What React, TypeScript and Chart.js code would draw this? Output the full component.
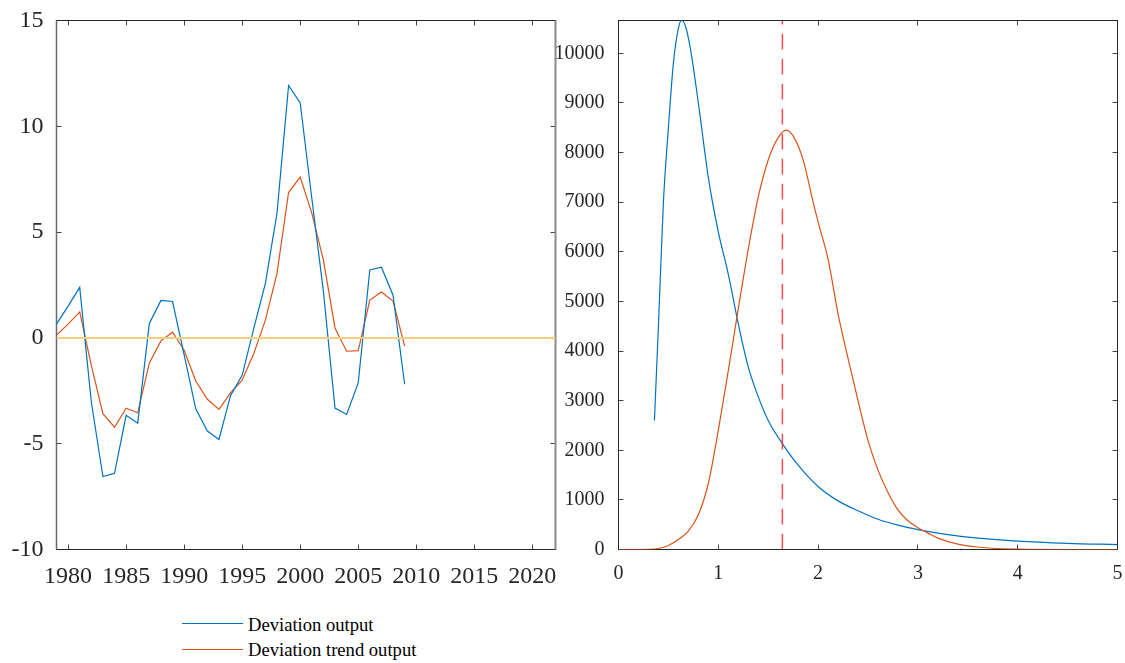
import React, { useEffect, useRef } from "react";
import { Chart, registerables } from "chart.js";

Chart.register(...registerables);

// ---------- Left panel data ----------
const years = [
  1979, 1980, 1981, 1982, 1983, 1984, 1985, 1986, 1987, 1988, 1989, 1990,
  1991, 1992, 1993, 1994, 1995, 1996, 1997, 1998, 1999, 2000, 2001, 2002,
  2003, 2004, 2005, 2006, 2007, 2008, 2009,
];
const deviationOutput = [
  0.65, 1.5, 2.39, -3.03, -6.55, -6.4, -3.66, -4.03, 0.68, 1.77, 1.72, -0.8,
  -3.35, -4.4, -4.8, -2.72, -1.77, 0.45, 2.58, 5.9, 11.93, 11.1, 6.6, 2.2,
  -3.32, -3.62, -2.13, 3.21, 3.34, 2.02, -2.19,
];
const deviationTrendOutput = [
  0.13, 0.65, 1.23, -1.3, -3.58, -4.22, -3.32, -3.54, -1.18, -0.14, 0.27, -0.58,
  -2.04, -2.9, -3.38, -2.6, -2.0, -0.74, 0.84, 3.05, 6.87, 7.6, 5.9, 3.68,
  0.47, -0.63, -0.6, 1.79, 2.17, 1.74, -0.39,
];
const zeroLineX = [1979, 2022];
const zeroLineY = [0, 0];
const leftXTicks = [1980, 1985, 1990, 1995, 2000, 2005, 2010, 2015, 2020];
const leftYTicks = [-10, -5, 0, 5, 10, 15];

// ---------- Right panel data ----------
const blueX = [
  0.36, 0.4, 0.45, 0.5, 0.55, 0.6, 0.63, 0.67, 0.72, 0.8, 0.9, 1.0, 1.1, 1.2,
  1.3, 1.4, 1.5, 1.64, 1.8, 2.0, 2.2, 2.4, 2.6, 2.8, 3.0, 3.2, 3.5, 4.0, 4.5, 5.0,
];
const blueY = [
  2600, 4500, 7000, 8500, 9800, 10500, 10660, 10550, 10100, 9000, 7500, 6400,
  5550, 4550, 3680, 3080, 2600, 2140, 1700, 1270, 980, 780, 610, 490, 400, 330,
  250, 170, 125, 100,
];
const orangeX = [
  0, 0.3, 0.4, 0.5, 0.6, 0.7, 0.8, 0.9, 1.0, 1.1, 1.2, 1.3, 1.4, 1.5, 1.6, 1.68,
  1.76, 1.85, 1.95, 2.0, 2.1, 2.2, 2.3, 2.4, 2.5, 2.6, 2.7, 2.8, 2.9, 3.0, 3.1,
  3.2, 3.4, 3.6, 3.8, 4.0, 4.5, 5.0,
];
const orangeY = [
  0, 5, 20, 80, 200, 370, 700, 1330, 2400, 3600, 4850, 6050, 7100, 7850, 8300,
  8450, 8300, 7850, 7000, 6600, 5850, 4750, 3850, 3000, 2200, 1600, 1150, 800,
  580, 440, 330, 230, 110, 50, 20, 8, 0, 0,
];
const markerX = 1.642;
const rightXTicks = [0, 1, 2, 3, 4, 5];
const rightYTicks = [0, 1000, 2000, 3000, 4000, 5000, 6000, 7000, 8000, 9000, 10000];
const rightYMax = 10660;

const legendLabels = ["Deviation output", "Deviation trend output"];

// ---------- Styles ----------
const BLUE = "#0072BD";
const ORANGE = "#D95319";
const YELLOW = "rgb(244,208,122)";
const FONT = "'Liberation Serif', 'Times New Roman', serif";
const TXT = "#262626";

const pts = (xs: number[], ys: number[]) => xs.map((x, i) => ({ x, y: ys[i] }));

const zeroPad = (s: any) => {
  s.paddingTop = 0;
  s.paddingBottom = 0;
  s.paddingLeft = 0;
  s.paddingRight = 0;
};

type SpineCfg = { color: string; width: number };
const framePlugin = (sp: { top: SpineCfg; bottom: SpineCfg; left: SpineCfg; right: SpineCfg }, tickColor: string) => ({
  id: "frame",
  beforeDatasetsDraw(chart: any) {
    const { ctx, chartArea } = chart;
    const { left, right, top, bottom } = chartArea;
    const xs = chart.scales.x;
    const ys = chart.scales.y;
    const L = 5;
    ctx.save();
    ctx.strokeStyle = tickColor;
    ctx.lineWidth = 1;
    ctx.beginPath();
    for (const t of xs.ticks) {
      const px = Math.round(xs.getPixelForValue(t.value) - 0.5) + 0.5;
      ctx.moveTo(px, bottom);
      ctx.lineTo(px, bottom - L);
      ctx.moveTo(px, top);
      ctx.lineTo(px, top + L);
    }
    for (const t of ys.ticks) {
      const py = Math.round(ys.getPixelForValue(t.value) - 0.5) + 0.5;
      ctx.moveTo(left, py);
      ctx.lineTo(left + L, py);
      ctx.moveTo(right, py);
      ctx.lineTo(right - L, py);
    }
    ctx.stroke();
    const line = (c: SpineCfg, x1: number, y1: number, x2: number, y2: number) => {
      ctx.beginPath();
      ctx.strokeStyle = c.color;
      ctx.lineWidth = c.width;
      ctx.moveTo(x1, y1);
      ctx.lineTo(x2, y2);
      ctx.stroke();
    };
    line(sp.top, left - 0.5, top, right + 0.5, top);
    line(sp.bottom, left - 0.5, bottom, right + 0.5, bottom);
    line(sp.left, left, top, left, bottom);
    line(sp.right, right, top, right, bottom);
    ctx.restore();
  },
});

const gridOff = { display: false, drawTicks: false, tickLength: 0 };

export default function App() {
  const leftRef = useRef<HTMLCanvasElement>(null);
  const rightRef = useRef<HTMLCanvasElement>(null);

  useEffect(() => {
    const leftChart = new Chart(leftRef.current as HTMLCanvasElement, {
      type: "line",
      data: {
        datasets: [
          {
            data: pts(zeroLineX, zeroLineY),
            borderColor: YELLOW,
            borderWidth: 2,
            pointRadius: 0,
            tension: 0,
          },
          {
            label: legendLabels[0],
            data: pts(years, deviationOutput),
            borderColor: BLUE,
            borderWidth: 1.2,
            pointRadius: 0,
            tension: 0,
          },
          {
            label: legendLabels[1],
            data: pts(years, deviationTrendOutput),
            borderColor: ORANGE,
            borderWidth: 1.2,
            pointRadius: 0,
            tension: 0,
          },
        ],
      },
      options: {
        animation: false,
        responsive: false,
        devicePixelRatio: 1,
        events: [],
        layout: { padding: { top: 20.5, right: 24.5, left: 0, bottom: 0 } },
        plugins: { legend: { display: false }, tooltip: { enabled: false } },
        scales: {
          x: {
            type: "linear",
            min: 1979,
            max: 2022,
            afterBuildTicks: (s: any) => {
              s.ticks = leftXTicks.map((v) => ({ value: v }));
            },
            afterFit: (s: any) => {
              s.height = 50.5;
              zeroPad(s);
            },
            grid: gridOff,
            border: { display: false },
            ticks: {
              autoSkip: false,
              maxRotation: 0,
              padding: 13,
              color: TXT,
              font: { family: FONT, size: 24 },
              callback: (v: any) => String(v),
            },
          },
          y: {
            type: "linear",
            min: -10,
            max: 15,
            afterBuildTicks: (s: any) => {
              s.ticks = leftYTicks.map((v) => ({ value: v }));
            },
            afterFit: (s: any) => {
              s.width = 56.5;
              zeroPad(s);
            },
            grid: gridOff,
            border: { display: false },
            ticks: {
              padding: 13,
              color: TXT,
              font: { family: FONT, size: 24 },
              callback: (v: any) => String(v),
            },
          },
        },
      },
      plugins: [
        framePlugin(
          {
            top: { color: "#262626", width: 1 },
            bottom: { color: "#262626", width: 1 },
            left: { color: "#6a6a6a", width: 1.5 },
            right: { color: "#8a8a8a", width: 2 },
          },
          "#444"
        ),
      ],
    } as any);

    const rightChart = new Chart(rightRef.current as HTMLCanvasElement, {
      type: "line",
      data: {
        datasets: [
          {
            data: pts([markerX, markerX], [0, rightYMax]),
            borderColor: "rgba(255,30,30,0.8)",
            borderWidth: 1.5,
            borderDash: [15.7, 9.3],
            pointRadius: 0,
            tension: 0,
          },
          {
            data: pts(orangeX, orangeY),
            borderColor: ORANGE,
            borderWidth: 1.2,
            pointRadius: 0,
            cubicInterpolationMode: "monotone",
          },
          {
            data: pts(blueX, blueY),
            borderColor: BLUE,
            borderWidth: 1.2,
            pointRadius: 0,
            cubicInterpolationMode: "monotone",
          },
        ],
      },
      options: {
        animation: false,
        responsive: false,
        devicePixelRatio: 1,
        events: [],
        layout: { padding: { top: 20.5, right: 7.5, left: 0, bottom: 0 } },
        plugins: { legend: { display: false }, tooltip: { enabled: false } },
        scales: {
          x: {
            type: "linear",
            min: 0,
            max: 5,
            afterBuildTicks: (s: any) => {
              s.ticks = rightXTicks.map((v) => ({ value: v }));
            },
            afterFit: (s: any) => {
              s.height = 50.5;
              zeroPad(s);
            },
            grid: gridOff,
            border: { display: false },
            ticks: {
              autoSkip: false,
              maxRotation: 0,
              padding: 12,
              color: TXT,
              font: { family: FONT, size: 20 },
              callback: (v: any) => String(v),
            },
          },
          y: {
            type: "linear",
            min: 0,
            max: rightYMax,
            afterBuildTicks: (s: any) => {
              s.ticks = rightYTicks.map((v) => ({ value: v }));
            },
            afterFit: (s: any) => {
              s.width = 78.5;
              zeroPad(s);
            },
            grid: gridOff,
            border: { display: false },
            ticks: {
              padding: 14,
              color: TXT,
              font: { family: FONT, size: 20 },
              callback: (v: any) => String(v),
            },
          },
        },
      },
      plugins: [
        framePlugin(
          {
            top: { color: "#262626", width: 1 },
            bottom: { color: "#262626", width: 1 },
            left: { color: "#262626", width: 1 },
            right: { color: "#262626", width: 1 },
          },
          "#444"
        ),
      ],
    } as any);

    return () => {
      leftChart.destroy();
      rightChart.destroy();
    };
  }, []);

  const textStyle: React.CSSProperties = {
    position: "absolute",
    left: 248,
    fontFamily: FONT,
    fontSize: 18.6,
    lineHeight: 1,
    color: "#000",
    whiteSpace: "nowrap",
  };

  return (
    <div
      style={{
        position: "absolute",
        left: 0,
        top: 0,
        width: 1125,
        height: 663,
        background: "#fff",
        overflow: "hidden",
      }}
    >
      <canvas
        ref={leftRef}
        width={580}
        height={600}
        style={{ position: "absolute", left: 0, top: 0, width: 580, height: 600 }}
      />
      <canvas
        ref={rightRef}
        width={585}
        height={600}
        style={{ position: "absolute", left: 540, top: 0, width: 585, height: 600 }}
      />
      <div style={{ position: "absolute", left: 182, top: 623, width: 61, height: 1, background: BLUE }} />
      <span style={{ ...textStyle, top: 616 }}>{legendLabels[0]}</span>
      <div style={{ position: "absolute", left: 182, top: 649, width: 61, height: 1, background: ORANGE }} />
      <span style={{ ...textStyle, top: 641 }}>{legendLabels[1]}</span>
    </div>
  );
}
